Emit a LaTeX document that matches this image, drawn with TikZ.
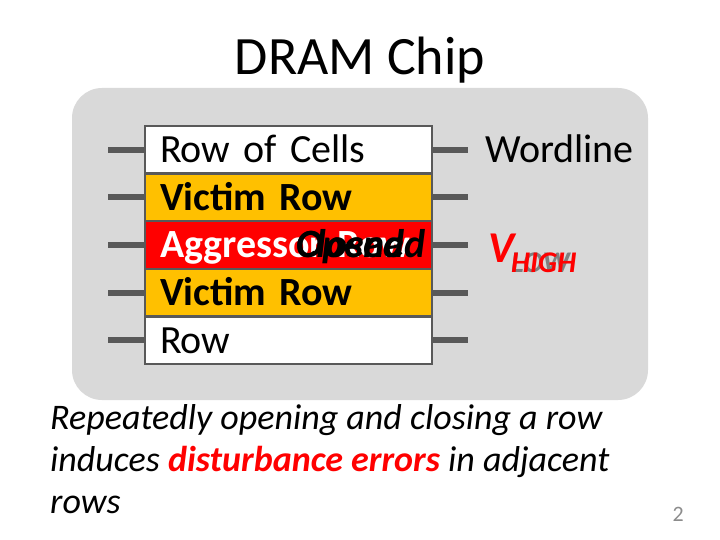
\documentclass[tikz,border=0pt]{standalone}
\usepackage{fontspec}
\setmainfont{Carlito}
\usetikzlibrary{positioning}
\definecolor{chipgray}{HTML}{D9D9D9}
\definecolor{wiregray}{HTML}{595959}
\definecolor{victimorange}{HTML}{FFC000}
\definecolor{aggred}{HTML}{FF0000}
\definecolor{lowgray}{HTML}{7F7F7F}
\definecolor{numgray}{HTML}{8C8C8C}

\begin{document}
\begin{tikzpicture}[x=1pt, y=-1pt, node distance=0pt,
    chip/.style={fill=chipgray, rounded corners=30pt, minimum width=576pt, minimum height=312pt, inner sep=0pt},
    cellrow/.style={draw=wiregray, line width=2.5pt, outer sep=0pt, minimum width=287pt, minimum height=47.5pt,
        text width=257pt, inner xsep=15pt, align=left, text height=26pt, text depth=0pt,
        font=\fontsize{40}{48}\selectfont},
    victim/.style={cellrow, fill=victimorange, font=\fontsize{40}{48}\selectfont\bfseries},
    aggressor/.style={cellrow, fill=aggred, text=white, font=\fontsize{40}{48}\selectfont\bfseries},
    state/.style={anchor=base west, inner sep=0pt, font=\fontsize{40}{48}\selectfont\bfseries\itshape},
    wire/.style={wiregray, line width=6pt},
    plain/.style={anchor=base west, inner sep=0pt, font=\fontsize{40}{48}\selectfont},
    capline/.style={anchor=base west, inner sep=0pt, font=\fontsize{36}{42}\selectfont\itshape}]

    \useasboundingbox (0,0) rectangle (720,540);

    \node[chip]       (chip)  at (360,244)  {};
    \node[inner sep=0pt, anchor=base, font=\fontsize{54}{60}\selectfont] (title) at (360,75) {DRAM Chip};

    % rows of cells
    \node[cellrow, fill=white] (r1) at (288.5,150)  {Row of Cells};
    \node[victim]              (r2) [below=of r1]   {Victim Row};
    \node[aggressor]           (r3) [below=of r2]   {Aggressor Row};
    \node[victim]              (r4) [below=of r3]   {Victim Row};
    \node[cellrow, fill=white] (r5) [below=of r4]   {Row};

    \node[state] (closed) at (296,258) {Closed};
    \node[state] (opened) at (296,258) {Opened};

    % wordlines
    \foreach \i in {1,...,5} {
        \coordinate[left=37pt of r\i.west]  (wl\i);
        \coordinate[right=36pt of r\i.east] (wr\i);
        \draw[wire] (wl\i) -- (r\i.west);
        \draw[wire] (r\i.east) -- (wr\i);
    }

    \node[plain] (wordline) at (485,163) {Wordline};

    \node[anchor=base west, inner sep=0pt, text=lowgray, font=\fontsize{30}{36}\selectfont\bfseries\itshape] (vlow)  at (511,272) {LOW};
    \node[anchor=base west, inner sep=0pt, text=aggred, font=\fontsize{44}{50}\selectfont\bfseries\itshape]  (vsym)  at (488,262) {V};
    \node[anchor=base west, inner sep=0pt, text=aggred, font=\fontsize{30}{36}\selectfont\bfseries\itshape] (vhigh) at (511,272) {HIGH};

    % caption
    \node[capline] (cap1) at (50,429) {Repeatedly opening and closing a row};
    \node[capline] (cap2) at (50,471) {induces {\bfseries\color{aggred}disturbance errors} in adjacent};
    \node[capline] (cap3) at (50,513) {rows};

    \node[anchor=base east, inner sep=0pt, text=numgray, font=\fontsize{22}{26}\selectfont] (pagenum) at (684,521) {2};

\end{tikzpicture}
\end{document}
